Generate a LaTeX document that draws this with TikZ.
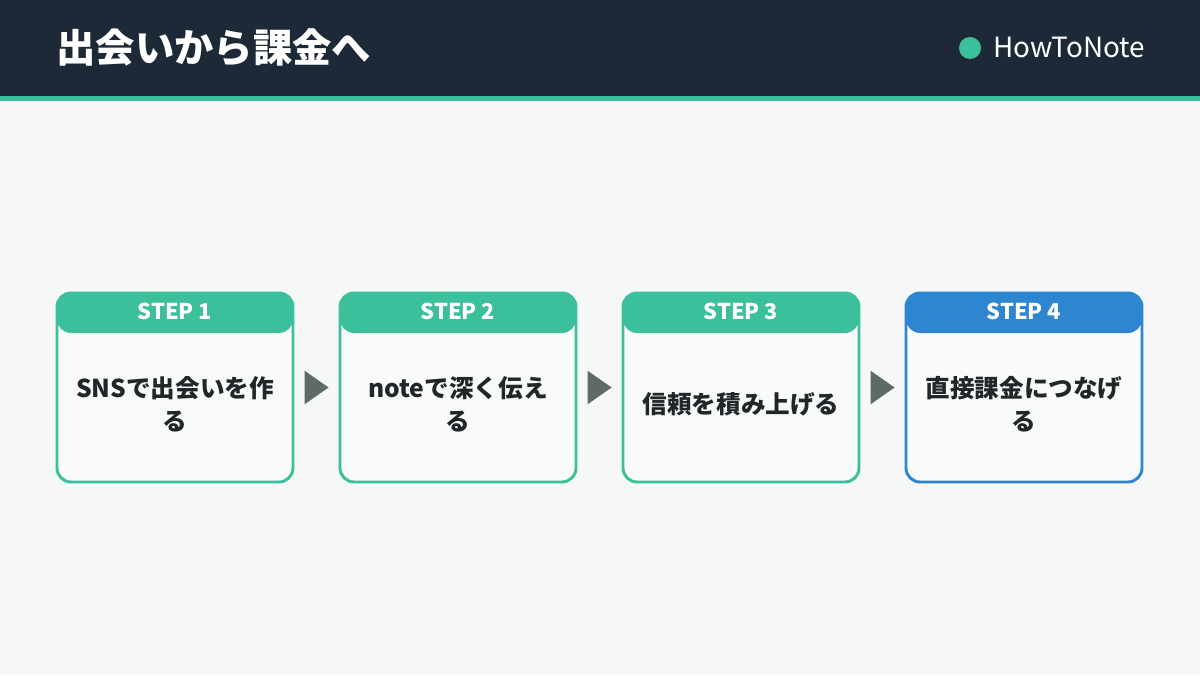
\documentclass[tikz,border=0pt]{standalone}
\usepackage{fontspec}
\setmainfont{Noto Sans CJK JP}
\usetikzlibrary{positioning,shapes.geometric,calc}
\definecolor{headbg}{HTML}{1E2937}
\definecolor{mint}{HTML}{3CC09C}
\definecolor{azure}{HTML}{2E86D1}
\definecolor{pagebg}{HTML}{F5F8F7}
\definecolor{cardbg}{HTML}{F9FAFA}
\definecolor{ink}{HTML}{222629}
\definecolor{pointer}{HTML}{5E6A66}

\begin{document}
\begin{tikzpicture}[font=\bfseries,
  card/.style={draw=#1,line width=2.1pt,rounded corners=0.35cm,fill=cardbg,
    minimum width=5.9cm,minimum height=4.725cm,
    path picture={\fill[#1] (path picture bounding box.north west)
      rectangle ([yshift=-1cm]path picture bounding box.north east);}},
  cardhead/.style={text=white,font=\fontsize{15.5}{17}\selectfont\bfseries},
  cardtext/.style={text=ink,align=center,font=\fontsize{17.5}{23.4}\selectfont\bfseries},
  pointer/.style={isosceles triangle,isosceles triangle apex angle=70,fill=pointer,
    inner sep=0pt,minimum height=0.6cm,minimum width=0.62cm}]
  % page and header
  \fill[pagebg] (0,0) rectangle (30,16.875);
  \fill[headbg] (0,14.475) rectangle (30,16.875);
  \fill[mint] (0,14.35) rectangle (30,14.475);
  \node[anchor=west,text=white,font=\fontsize{28}{30}\selectfont\bfseries,inner sep=0pt]
    (title) at (1.4,15.675) {出会いから課金へ};
  \node[circle,fill=mint,minimum size=0.55cm,inner sep=0pt] (dot) at (24.25,15.675) {};
  \node[anchor=west,text=white,font=\fontsize{19.8}{21}\selectfont,inner sep=0pt]
    (brand) at (24.825,15.7) {HowToNote};
  % steps
  \node[card=mint] (s1) at (4.375,7.1875) {};
  \node[card=mint] (s2) at (11.45,7.1875) {};
  \node[card=mint] (s3) at (18.525,7.1875) {};
  \node[card=azure] (s4) at (25.6,7.1875) {};
  \node[cardhead] (h1) at ([yshift=-0.5cm]s1.north) {STEP 1};
  \node[cardhead] (h2) at ([yshift=-0.5cm]s2.north) {STEP 2};
  \node[cardhead] (h3) at ([yshift=-0.5cm]s3.north) {STEP 3};
  \node[cardhead] (h4) at ([yshift=-0.5cm]s4.north) {STEP 4};
  \node[cardtext] (t1) at ([yshift=-0.42cm]s1.center) {SNSで出会いを作\\る};
  \node[cardtext] (t2) at ([yshift=-0.42cm]s2.center) {noteで深く伝え\\る};
  \node[cardtext] (t3) at ([yshift=-0.42cm]s3.center) {信頼を積み上げる};
  \node[cardtext] (t4) at ([yshift=-0.42cm]s4.center) {直接課金につなげ\\る};
  \node[pointer] (p1) at ([xshift=-0.08cm]$(s1.east)!0.5!(s2.west)$) {};
  \node[pointer] (p2) at ([xshift=-0.08cm]$(s2.east)!0.5!(s3.west)$) {};
  \node[pointer] (p3) at ([xshift=-0.08cm]$(s3.east)!0.5!(s4.west)$) {};
\end{tikzpicture}
\end{document}
